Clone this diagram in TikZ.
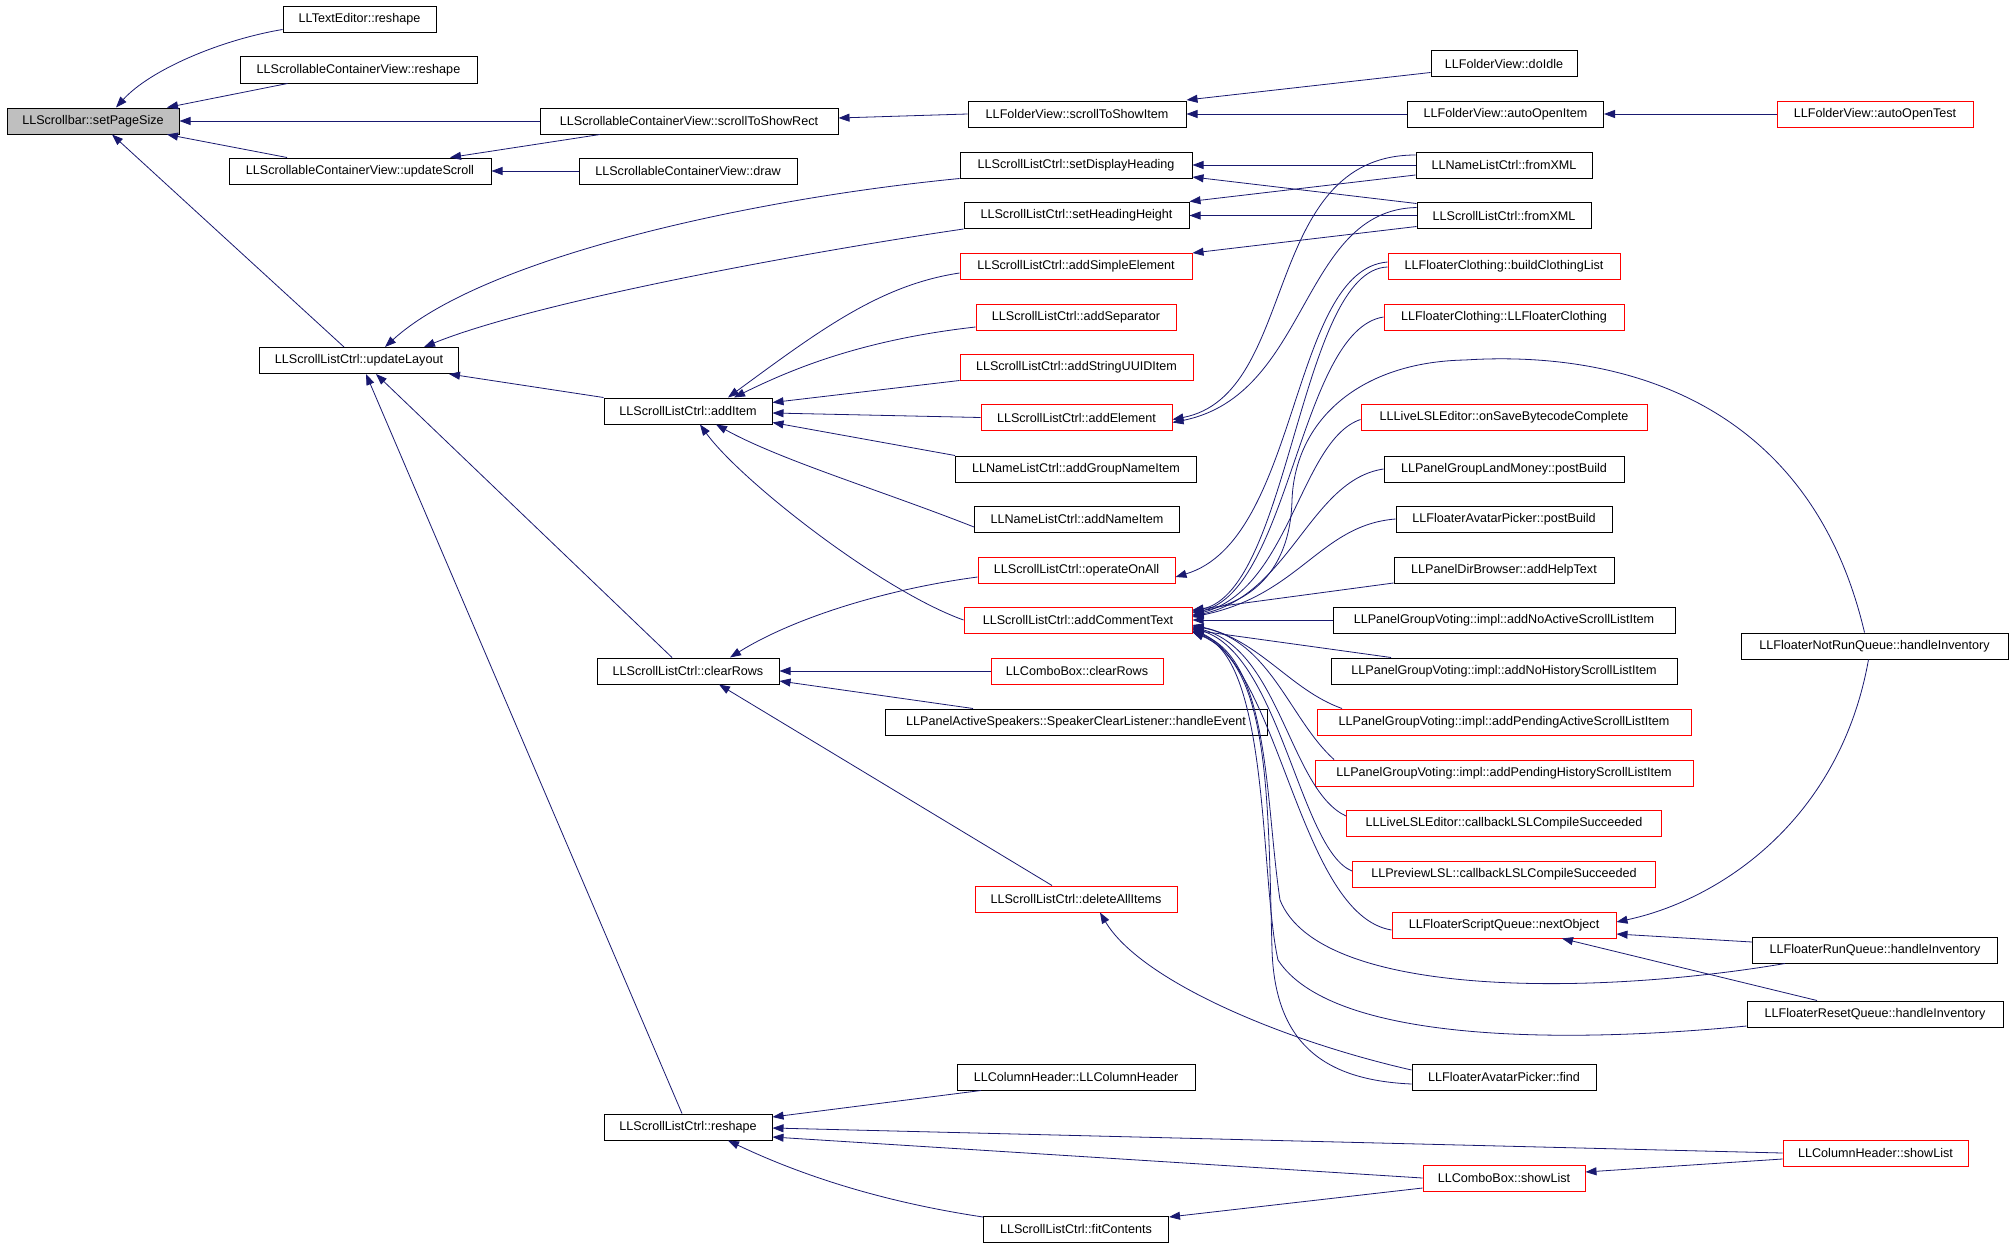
\documentclass[tikz,border=0pt]{standalone}
\usepackage{fontspec}
\setmainfont{Liberation Sans}
\usetikzlibrary{arrows.meta}

\definecolor{edgeblue}{RGB}{25,25,112}
\tikzset{
  fn/.style={draw=black, line width=1pt, rectangle, minimum height=26pt, inner sep=0pt, font=\fontsize{12.6}{15}\selectfont},
  fnred/.style={fn, draw=red},
  fnroot/.style={fn, fill=black!25},
  call/.style={draw=edgeblue, line width=0.8pt, -{Triangle[length=11pt,width=8pt]}}
}

\begin{document}
\begin{tikzpicture}[x=1pt,y=-1pt]
  \fill[white] (0,0) rectangle (2013,1247);
  \useasboundingbox (0,0) rectangle (2013,1247);

  % first two columns
  \node[fnroot, minimum width=172pt] (setpagesize) at (93,121) {LLScrollbar::setPageSize};
  \node[fn, minimum width=153pt] (textreshape) at (359.5,19.5) {LLTextEditor::reshape};
  \node[fn, minimum width=237pt] (scvreshape) at (358.5,70) {LLScrollableContainerView::reshape};
  \node[fn, minimum width=262pt] (updatescroll) at (360,171) {LLScrollableContainerView::updateScroll};
  \node[fn, minimum width=199pt] (updatelayout) at (359,360.5) {LLScrollListCtrl::updateLayout};

  \node[fn, minimum width=298pt] (scrollrect) at (689,121) {LLScrollableContainerView::scrollToShowRect};
  \node[fn, minimum width=218pt] (scvdraw) at (688,171) {LLScrollableContainerView::draw};
  \node[fn, minimum width=168pt] (additem) at (688,411) {LLScrollListCtrl::addItem};
  \node[fn, minimum width=182pt] (clearrows) at (688,671) {LLScrollListCtrl::clearRows};
  \node[fn, minimum width=168pt] (slreshape) at (688,1127) {LLScrollListCtrl::reshape};

  % middle column
  \node[fn, minimum width=218pt] (scrollitem) at (1077,114) {LLFolderView::scrollToShowItem};
  \node[fn, minimum width=232pt] (setdisp) at (1076,165) {LLScrollListCtrl::setDisplayHeading};
  \node[fn, minimum width=225pt] (setheight) at (1076.5,215.5) {LLScrollListCtrl::setHeadingHeight};
  \node[fnred, minimum width=232pt] (addsimple) at (1076,266) {LLScrollListCtrl::addSimpleElement};
  \node[fnred, minimum width=200pt] (addsep) at (1076,317) {LLScrollListCtrl::addSeparator};
  \node[fnred, minimum width=233pt] (addstring) at (1076.5,367) {LLScrollListCtrl::addStringUUIDItem};
  \node[fnred, minimum width=191pt] (addelem) at (1076.5,417.5) {LLScrollListCtrl::addElement};
  \node[fn, minimum width=241pt] (addgroup) at (1076,469) {LLNameListCtrl::addGroupNameItem};
  \node[fn, minimum width=205pt] (addname) at (1077,519) {LLNameListCtrl::addNameItem};
  \node[fnred, minimum width=197pt] (operate) at (1076.5,570) {LLScrollListCtrl::operateOnAll};
  \node[fnred, minimum width=228pt] (addcomment) at (1078,620) {LLScrollListCtrl::addCommentText};
  \node[fnred, minimum width=172pt] (cbclear) at (1077,671) {LLComboBox::clearRows};
  \node[fn, minimum width=382pt] (speaker) at (1076,722) {LLPanelActiveSpeakers::SpeakerClearListener::handleEvent};
  \node[fnred, minimum width=202pt] (deleteall) at (1076,899) {LLScrollListCtrl::deleteAllItems};
  \node[fn, minimum width=238pt] (colctor) at (1076,1077) {LLColumnHeader::LLColumnHeader};
  \node[fn, minimum width=185pt] (fitcont) at (1076,1229) {LLScrollListCtrl::fitContents};

  % callers column
  \node[fn, minimum width=146pt] (doidle) at (1504,63.5) {LLFolderView::doIdle};
  \node[fn, minimum width=196pt] (autoopen) at (1505.5,114) {LLFolderView::autoOpenItem};
  \node[fn, minimum width=176pt] (namexml) at (1504,165) {LLNameListCtrl::fromXML};
  \node[fn, minimum width=174pt] (scrollxml) at (1504,215.5) {LLScrollListCtrl::fromXML};
  \node[fnred, minimum width=232pt] (buildcloth) at (1504,266) {LLFloaterClothing::buildClothingList};
  \node[fnred, minimum width=240pt] (clothctor) at (1504,317) {LLFloaterClothing::LLFloaterClothing};
  \node[fnred, minimum width=286pt] (onsave) at (1504,417.5) {LLLiveLSLEditor::onSaveBytecodeComplete};
  \node[fn, minimum width=240pt] (landmoney) at (1504,469) {LLPanelGroupLandMoney::postBuild};
  \node[fn, minimum width=216pt] (pickerpost) at (1504,519) {LLFloaterAvatarPicker::postBuild};
  \node[fn, minimum width=220pt] (helptext) at (1504,570) {LLPanelDirBrowser::addHelpText};
  \node[fn, minimum width=342pt] (noactive) at (1504,620) {LLPanelGroupVoting::impl::addNoActiveScrollListItem};
  \node[fn, minimum width=346pt] (nohistory) at (1504,671) {LLPanelGroupVoting::impl::addNoHistoryScrollListItem};
  \node[fnred, minimum width=374pt] (pendactive) at (1504,722) {LLPanelGroupVoting::impl::addPendingActiveScrollListItem};
  \node[fnred, minimum width=378pt] (pendhist) at (1504,773) {LLPanelGroupVoting::impl::addPendingHistoryScrollListItem};
  \node[fnred, minimum width=315pt] (livecompile) at (1504,823) {LLLiveLSLEditor::callbackLSLCompileSucceeded};
  \node[fnred, minimum width=303pt] (previewcompile) at (1504,874) {LLPreviewLSL::callbackLSLCompileSucceeded};
  \node[fnred, minimum width=224pt] (nextobject) at (1504,925) {LLFloaterScriptQueue::nextObject};
  \node[fn, minimum width=184pt] (pickerfind) at (1504,1077) {LLFloaterAvatarPicker::find};
  \node[fnred, minimum width=162pt] (cbshow) at (1504,1178) {LLComboBox::showList};

  % right column
  \node[fnred, minimum width=196pt] (autotest) at (1875,114) {LLFolderView::autoOpenTest};
  \node[fn, minimum width=267pt] (notrun) at (1874.5,646) {LLFloaterNotRunQueue::handleInventory};
  \node[fn, minimum width=245pt] (runqueue) at (1875,950) {LLFloaterRunQueue::handleInventory};
  \node[fn, minimum width=256pt] (resetqueue) at (1875,1014) {LLFloaterResetQueue::handleInventory};
  \node[fnred, minimum width=185pt] (colshow) at (1875.5,1153) {LLColumnHeader::showList};

  % calls into setPageSize
  \draw[call] ([yshift=-10pt]textreshape.west) .. controls (220,40) and (150,70) .. ([xshift=23pt]setpagesize.north);
  \draw[call] ([xshift=-71pt]scvreshape.south) -- ([xshift=74pt]setpagesize.north);
  \draw[call] (scrollrect.west) -- (setpagesize.east);
  \draw[call] ([xshift=-73pt]updatescroll.north) -- ([xshift=74pt]setpagesize.south);
  \draw[call] ([xshift=-15pt]updatelayout.north) -- ([xshift=19pt]setpagesize.south);
  \draw[call] ([xshift=-89pt]scrollrect.south) -- ([xshift=90pt]updatescroll.north);
  \draw[call] (scvdraw.west) -- (updatescroll.east);
  \draw[call] (scrollitem.west) -- ([yshift=3pt]scrollrect.east);
  \draw[call] ([yshift=-9pt]doidle.west) -- ([yshift=14pt]scrollitem.east);
  \draw[call] (autoopen.west) -- (scrollitem.east);
  \draw[call] (autotest.west) -- (autoopen.east);

  % calls into updateLayout
  \draw[call] (setdisp.south west) .. controls (740,200) and (480,260) .. ([xshift=26pt]updatelayout.north);
  \draw[call] (setheight.south west) .. controls (820,250) and (540,300) .. ([xshift=65pt]updatelayout.north);
  \draw[call] (additem.north west) -- ([xshift=90pt]updatelayout.south);
  \draw[call] ([xshift=-16pt]clearrows.north) -- ([xshift=17pt]updatelayout.south);
  \draw[call] ([xshift=-6pt]slreshape.north) -- ([xshift=7pt]updatelayout.south);

  % calls into addItem
  \draw[call] ([yshift=-7pt]addsimple.west) .. controls (880,285) and (820,330) .. ([xshift=40pt]additem.north);
  \draw[call] ([yshift=-10pt]addsep.west) .. controls (860,340) and (790,370) .. ([xshift=46pt]additem.north);
  \draw[call] (addstring.south west) -- ([yshift=-5pt]additem.north east);
  \draw[call] (addelem.west) -- ([yshift=-2pt]additem.east);
  \draw[call] (addgroup.north west) -- ([yshift=2pt]additem.south east);
  \draw[call] ([yshift=-8pt]addname.west) .. controls (880,490) and (780,460) .. ([xshift=28pt]additem.south);
  \draw[call] (addcomment.west) .. controls (880,590) and (740,480) .. ([xshift=12pt]additem.south);

  % calls into clearRows
  \draw[call] ([yshift=-7pt]operate.west) .. controls (880,590) and (790,620) .. ([xshift=42pt]clearrows.north);
  \draw[call] (cbclear.west) -- (clearrows.east);
  \draw[call] ([xshift=-103pt]speaker.north) -- ([yshift=-10pt]clearrows.east);
  \draw[call] ([xshift=-24pt]deleteall.north) -- ([xshift=31pt]clearrows.south);
  \draw[call] ([yshift=7pt]pickerfind.west) .. controls (1280,1040) and (1140,980) .. ([xshift=24pt]deleteall.south);

  % calls into reshape
  \draw[call] ([xshift=-95pt]colctor.south) -- ([yshift=10pt]slreshape.east);
  \draw[call] (colshow.west) -- ([yshift=-1pt]slreshape.east);
  \draw[call] (cbshow.west) -- ([yshift=-10pt]slreshape.east);
  \draw[call] ([yshift=12pt]fitcont.west) .. controls (870,1200) and (790,1170) .. ([xshift=40pt]slreshape.south);
  \draw[call] ([yshift=-10pt]cbshow.west) -- ([yshift=12pt]fitcont.east);
  \draw[call] ([yshift=-6pt]colshow.west) -- ([yshift=6pt]cbshow.east);

  % fromXML and clothing calls
  \draw[call] (namexml.west) -- (setdisp.east);
  \draw[call] ([yshift=12pt]scrollxml.west) -- ([yshift=-12pt]setdisp.east);
  \draw[call] ([yshift=-10pt]namexml.west) -- ([yshift=14pt]setheight.east);
  \draw[call] (scrollxml.west) -- (setheight.east);
  \draw[call] ([yshift=-11pt]scrollxml.west) -- ([yshift=13pt]addsimple.east);
  \draw[call] ([yshift=10pt]namexml.west) .. controls (1260,155) and (1300,395) .. ([yshift=-2pt]addelem.east);
  \draw[call] ([yshift=8pt]scrollxml.west) .. controls (1300,210) and (1310,395) .. ([yshift=-5pt]addelem.east);
  \draw[call] ([yshift=4pt]buildcloth.west) .. controls (1290,270) and (1300,540) .. ([yshift=-7pt]operate.east);

  % calls into addCommentText
  \draw[call] ([yshift=-1pt]buildcloth.west) .. controls (1300,270) and (1290,590) .. ([yshift=9pt]addcomment.east);
  \draw[call] (clothctor.west) .. controls (1300,330) and (1290,590) .. ([yshift=7pt]addcomment.east);
  \draw[call] ([xshift=-10pt]notrun.north) .. controls (1810,400) and (1620,350) .. (1465,360)
    .. controls (1360,362) and (1295,420) .. (1292,500) .. controls (1290,580) and (1240,605) .. ([yshift=8pt]addcomment.east);
  \draw[call] ([yshift=-2pt]onsave.west) .. controls (1300,440) and (1290,590) .. ([yshift=5pt]addcomment.east);
  \draw[call] (landmoney.west) .. controls (1310,480) and (1290,595) .. ([yshift=4pt]addcomment.east);
  \draw[call] (pickerpost.west) .. controls (1320,525) and (1300,595) .. ([yshift=3pt]addcomment.east);
  \draw[call] ([yshift=-13pt]helptext.west) -- ([yshift=10pt]addcomment.east);
  \draw[call] (noactive.west) -- (addcomment.east);
  \draw[call] ([xshift=-113pt]nohistory.north) -- ([yshift=-10pt]addcomment.east);
  \draw[call] ([xshift=-162pt]pendactive.north) .. controls (1290,690) and (1260,640) .. ([yshift=-5pt]addcomment.east);
  \draw[call] ([xshift=-170pt]pendhist.north) .. controls (1290,720) and (1270,640) .. ([yshift=-6pt]addcomment.east);
  \draw[call] ([yshift=7pt]livecompile.west) .. controls (1290,790) and (1280,650) .. ([yshift=-7pt]addcomment.east);
  \draw[call] ([yshift=3pt]previewcompile.west) .. controls (1300,850) and (1280,655) .. ([yshift=-8pt]addcomment.east);
  \draw[call] ([yshift=-5pt]nextobject.west) .. controls (1300,915) and (1280,670) .. ([yshift=-9pt]addcomment.east);
  \draw[call] ([xshift=-90pt]runqueue.south) .. controls (1600,995) and (1320,1000) .. (1280,900)
    .. controls (1265,800) and (1270,660) .. ([yshift=-11pt]addcomment.east);
  \draw[call] ([yshift=-12pt]resetqueue.west) .. controls (1550,1045) and (1330,1040) .. (1278,960)
    .. controls (1260,880) and (1270,660) .. ([yshift=-12pt]addcomment.east);
  \draw[call] ([yshift=-7pt]pickerfind.west) .. controls (1320,1080) and (1275,1040) .. (1272,950)
    .. controls (1268,800) and (1270,665) .. ([yshift=-12pt]addcomment.east);

  % calls into nextObject
  \draw[call] ([xshift=-6pt]notrun.south) .. controls (1840,820) and (1720,900) .. ([yshift=3pt]nextobject.east);
  \draw[call] ([yshift=8pt]runqueue.west) -- ([yshift=-9pt]nextobject.east);
  \draw[call] ([xshift=-58pt]resetqueue.north) -- ([xshift=58pt]nextobject.south);
\end{tikzpicture}
\end{document}
